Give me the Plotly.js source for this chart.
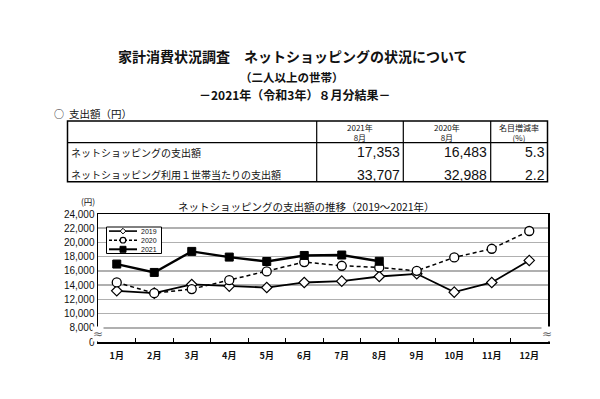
<!DOCTYPE html>
<html>
<head>
<meta charset="utf-8">
<script src="https://cdn.plot.ly/plotly-3.0.1.min.js"></script>
<style>html,body{margin:0;padding:0;background:#fff;}#chart{width:600px;height:399px;}</style>
</head>
<body>
<div id="chart"></div>
<script>
// ---- data ----
const months = ["1月","2月","3月","4月","5月","6月","7月","8月","9月","10月","11月","12月"];
const series2019 = [13200, 12880, 14090, 13860, 13660, 14370, 14560, 15210, 15590, 13010, 14370, 17470];
const series2020 = [14380, 12870, 13440, 14700, 15920, 17240, 16720, 16483, 16010, 17890, 19110, 21610];
const series2021 = [16960, 15780, 18740, 17940, 17320, 18170, 18230, 17353];
const seriesNames = ["2019", "2020", "2021"];
const yTickVals = [6000, 8000, 10000, 12000, 14000, 16000, 18000, 20000, 22000, 24000];
const yTickText = ["0", "8,000", "10,000", "12,000", "14,000", "16,000", "18,000", "20,000", "22,000", "24,000"];
const tableRowLabels = ["ネットショッピングの支出額", "ネットショッピング利用１世帯当たりの支出額"];
const tableHead2021 = ["2021年", "8月"];
const tableHead2020 = ["2020年", "8月"];
const tableHeadRate = ["名目増減率", "(%)"];
const table2021 = ["17,353", "33,707"];
const table2020 = ["16,483", "32,988"];
const tableRate = ["5.3", "2.2"];

// ---- layout helpers (pixel -> paper) ----
const L = 98, R = 548, T = 214, B = 342;
const px = x => (x - L) / (R - L);
const py = y => (B - y) / (B - T);
const JP = '"Noto Sans CJK JP", "Noto Sans", sans-serif';
const NUM = '"Liberation Sans", Arial, sans-serif';

const ann = [];
const shapes = [];
function txt(text, x, y, size, opts) {
  opts = opts || {};
  ann.push({
    text: text, x: px(x), y: py(y), xref: 'paper', yref: 'paper',
    xanchor: opts.xanchor || 'center', yanchor: 'middle', showarrow: false,
    align: opts.align || 'center',
    font: {family: opts.family || JP, size: size, color: opts.color || '#111', weight: opts.weight || 'normal'},
    bgcolor: opts.bgcolor, borderpad: 0
  });
}
function line(x0, y0, x1, y1, w, dash) {
  shapes.push({type: 'line', xref: 'paper', yref: 'paper', x0: px(x0), y0: py(y0), x1: px(x1), y1: py(y1),
    line: {color: '#000', width: w || 1, dash: dash || 'solid'}, layer: 'above'});
}

// page titles
txt("家計消費状況調査　ネットショッピングの状況について", 293, 56, 14, {weight: 'bold'});
txt("（二人以上の世帯）", 292, 76.5, 11.5, {weight: 'bold'});
txt("－2021年（令和3年）８月分結果－", 294, 94, 12, {weight: 'bold'});
txt("○", 59, 113, 10, {});
txt("支出額（円）", 68, 113, 10.5, {xanchor: 'left'});

// table
const tL = 67.5, tR = 547.5, tT = 121, tH = 142.7, tB = 181.7;
const c1 = 316.7, c2 = 403.3, c3 = 490.7;
shapes.push({type: 'rect', xref: 'paper', yref: 'paper', x0: px(tL), y0: py(tT), x1: px(tR), y1: py(tB),
  line: {color: '#000', width: 1.5}, fillcolor: 'rgba(0,0,0,0)'});
line(tL, tH, tR, tH, 1.2);
[c1, c2, c3].forEach(c => line(c, tT, c, tB, 1.2));
const hdrs = [tableHead2021, tableHead2020, tableHeadRate];
const centers = [(c1 + c2) / 2, (c2 + c3) / 2, (c3 + tR) / 2];
hdrs.forEach((h, i) => {
  txt(h[0] + "<br>" + h[1], centers[i], 132.5, 8);
});
const rowY = [152, 174.5];
tableRowLabels.forEach((t, i) => txt(t, 69.5, rowY[i], 10, {xanchor: 'left'}));
table2021.forEach((t, i) => txt(t, 400.5, rowY[i], 14, {xanchor: 'right', family: NUM}));
table2020.forEach((t, i) => txt(t, 487.5, rowY[i], 14, {xanchor: 'right', family: NUM}));
tableRate.forEach((t, i) => txt(t, 546, rowY[i], 14, {xanchor: 'right', family: NUM}));

// chart title + unit
txt("ネットショッピングの支出額の推移（2019～2021年）", 306, 206.5, 10.5);
txt("(円)", 88, 201, 8.5);

// axis break marks
txt("≈", 98, 333.5, 12, {color: '#666', bgcolor: 'rgba(255,255,255,1)', family: '"DejaVu Sans"'});
txt("≈", 547, 333.5, 12, {color: '#666', bgcolor: 'rgba(255,255,255,1)', family: '"DejaVu Sans"'});

// manual legend
shapes.push({type: 'rect', xref: 'paper', yref: 'paper', x0: px(106.5), y0: py(227), x1: px(161.5), y1: py(253.5),
  line: {color: '#000', width: 1}, fillcolor: '#fff', layer: 'above'});
const legY = [231.1, 240.2, 249.3];
const lx0 = 109, lx1 = 137, lmx = 123;
line(lx0, legY[0], lx1, legY[0], 1.6);
line(lx0, legY[1], lx1, legY[1], 1.4, '3px,2px');
line(lx0, legY[2], lx1, legY[2], 2);
// diamond
const d = 2.8;
shapes.push({type: 'path', xref: 'paper', yref: 'paper', layer: 'above',
  path: `M ${px(lmx)},${py(legY[0]-d)} L ${px(lmx+d)},${py(legY[0])} L ${px(lmx)},${py(legY[0]+d)} L ${px(lmx-d)},${py(legY[0])} Z`,
  line: {color: '#000', width: 1}, fillcolor: '#fff'});
// circle
shapes.push({type: 'circle', xref: 'paper', yref: 'paper', layer: 'above',
  x0: px(lmx-2.8), x1: px(lmx+2.8), y0: py(legY[1]-2.8), y1: py(legY[1]+2.8),
  line: {color: '#000', width: 1.2}, fillcolor: '#fff'});
// square
shapes.push({type: 'rect', xref: 'paper', yref: 'paper', layer: 'above',
  x0: px(lmx-3), x1: px(lmx+3), y0: py(legY[2]-3), y1: py(legY[2]+3),
  line: {color: '#000', width: 1}, fillcolor: '#000'});
txt(seriesNames.join("<br>"), 139.5, legY[1], 7, {xanchor: 'left', align: 'left', family: NUM});

// ---- traces ----
const traces = [
  {x: months, y: series2019, name: seriesNames[0], type: 'scatter', mode: 'lines+markers',
   line: {color: '#000', width: 1.8},
   marker: {symbol: 'diamond', size: 8, color: '#fff', line: {color: '#000', width: 1.2}}},
  {x: months, y: series2020, name: seriesNames[1], type: 'scatter', mode: 'lines+markers',
   line: {color: '#000', width: 1.5, dash: '4px,3px'},
   marker: {symbol: 'circle', size: 9, color: '#fff', line: {color: '#000', width: 1.3}}},
  {x: months.slice(0, series2021.length), y: series2021, name: seriesNames[2], type: 'scatter', mode: 'lines+markers',
   line: {color: '#000', width: 2.4},
   marker: {symbol: 'square', size: 8, color: '#000', line: {color: '#000', width: 1}}}
];

const layout = {
  width: 600, height: 399,
  margin: {l: L, r: 600 - R, t: T, b: 399 - B, pad: 0},
  paper_bgcolor: '#fff', plot_bgcolor: '#fff',
  showlegend: false,
  xaxis: {
    type: 'category', categoryarray: months, range: [-0.5, 11.5],
    showline: true, linecolor: '#000', linewidth: 1.5, mirror: true,
    showgrid: false, zeroline: false,
    ticks: 'inside', tickson: 'boundaries', ticklen: 4, tickcolor: '#000', tickwidth: 1,
    ticklabelstandoff: 5,
    tickfont: {family: JP, size: 9, color: '#111', weight: 'bold'}
  },
  yaxis: {
    range: [6000, 24000], tickmode: 'array', tickvals: yTickVals, ticktext: yTickText,
    showline: true, linecolor: '#000', linewidth: 1.5, mirror: true,
    showgrid: true, gridcolor: '#b0b0b0', gridwidth: 1.5, zeroline: false,
    ticks: '', tickfont: {family: NUM, size: 10, color: '#111'}
  },
  annotations: ann,
  shapes: shapes,
  font: {family: JP}
};

Plotly.newPlot('chart', traces, layout, {displayModeBar: false, staticPlot: true});
</script>
</body>
</html>
